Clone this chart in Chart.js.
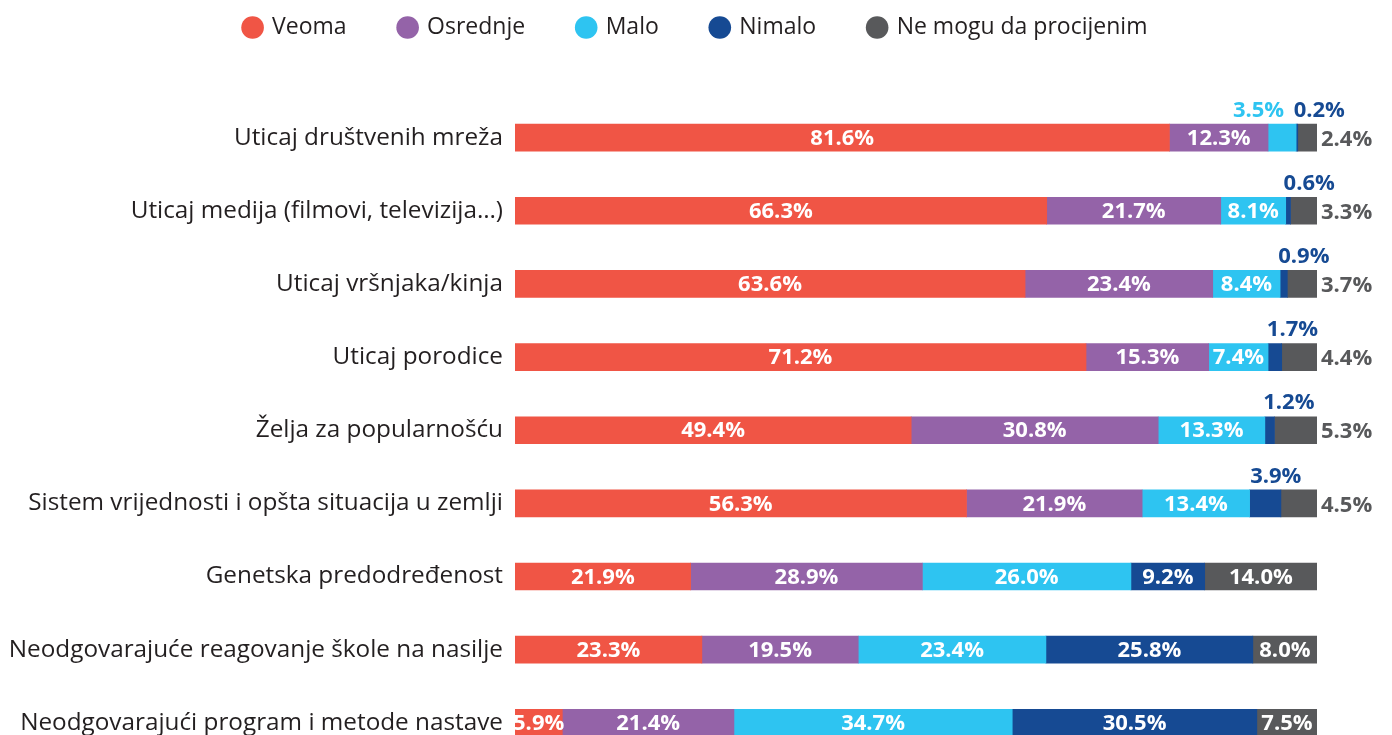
<!DOCTYPE html>
<html>
<head>
<meta charset="utf-8">
<script src="https://cdn.jsdelivr.net/npm/chart.js@4"></script>
<style>
    html, body { margin: 0; padding: 0; background: #fff; overflow: hidden; }
</style>
</head>
<body>
<canvas id="chart" width="1392" height="778"></canvas>
<script>
// Data
const categories = [
    "Uticaj društvenih mreža",
    "Uticaj medija (filmovi, televizija…)",
    "Uticaj vršnjaka/kinja",
    "Uticaj porodice",
    "Želja za popularnošću",
    "Sistem vrijednosti i opšta situacija u zemlji",
    "Genetska predodređenost",
    "Neodgovarajuće reagovanje škole na nasilje",
    "Neodgovarajući program i metode nastave"
];
const seriesNames = ["Veoma", "Osrednje", "Malo", "Nimalo", "Ne mogu da procijenim"];
const veoma    = [81.6, 66.3, 63.6, 71.2, 49.4, 56.3, 21.9, 23.3, 5.9];
const osrednje = [12.3, 21.7, 23.4, 15.3, 30.8, 21.9, 28.9, 19.5, 21.4];
const malo     = [3.5, 8.1, 8.4, 7.4, 13.3, 13.4, 26.0, 23.4, 34.7];
const nimalo   = [0.2, 0.6, 0.9, 1.7, 1.2, 3.9, 9.2, 25.8, 30.5];
const neMogu   = [2.4, 3.3, 3.7, 4.4, 5.3, 4.5, 14.0, 8.0, 7.5];

const colors = ["#f05545", "#9463a8", "#2ec4f1", "#164a93", "#58595b"];
const FONT = "'Open Sans', sans-serif";

// value labels: inside when the segment is wide enough, outside otherwise
const barLabels = {
    id: "barLabels",
    afterDatasetsDraw(chart) {
        const ctx = chart.ctx;
        ctx.save();
        ctx.font = `bold 22px ${FONT}`;
        ctx.textBaseline = "middle";
        chart.data.datasets.forEach((ds, i) => {
            const meta = chart.getDatasetMeta(i);
            meta.data.forEach((bar, j) => {
                const v = ds.data[j];
                const txt = v.toFixed(1) + "%";
                const w = bar.x - bar.base;
                if(v >= 5.5){
                    ctx.fillStyle = "#fff";
                    ctx.textAlign = "center";
                    ctx.fillText(txt, bar.base + w / 2, bar.y + 1);
                } else if(i === 4){
                    // gray: to the right of the bar
                    ctx.fillStyle = colors[i];
                    ctx.textAlign = "left";
                    ctx.fillText(txt, bar.x + 4, bar.y + 2);
                } else if(i === 3){
                    // dark blue: above, nudged right
                    ctx.fillStyle = colors[i];
                    ctx.textAlign = "center";
                    ctx.fillText(txt, bar.base + w / 2 + 23 - 0.4 * w, bar.y - 27);
                } else {
                    // cyan: above, left of the dark blue label
                    ctx.fillStyle = colors[i];
                    ctx.textAlign = "right";
                    ctx.fillText(txt, bar.x - 12, bar.y - 27);
                }
            });
        });
        ctx.restore();
    }
};

const values = [veoma, osrednje, malo, nimalo, neMogu];

// invisible axis that only reserves room
const spacer = (position, size) => ({
    type: "linear",
    position,
    axis: position === "top" ? "x" : "y",
    ticks: { display: false },
    grid: { display: false },
    border: { display: false },
    afterFit(scale){
        if(position === "top") scale.height = size;
        else scale.width = size;
    }
});

new Chart(document.getElementById("chart"), {
    type: "bar",
    data: {
        labels: categories,
        datasets: values.map((d, i) => ({
            label: seriesNames[i],
            data: d,
            xAxisID: "x",
            yAxisID: "y",
            backgroundColor: colors[i],
            borderWidth: 0,
            barThickness: 27
        }))
    },
    options: {
        indexAxis: "y",
        responsive: false,
        animation: false,
        layout: { padding: { top: -37, right: 0, bottom: 0, left: 0 } },
        plugins: {
            tooltip: { enabled: false },
            legend: {
                position: "top",
                labels: {
                    usePointStyle: true,
                    pointStyle: "circle",
                    boxWidth: 16,
                    boxHeight: 16,
                    padding: 53,
                    color: "#231f20",
                    font: { family: FONT, size: 23 }
                }
            }
        },
        scales: {
            x: {
                stacked: true,
                min: 0,
                max: 100,
                display: false
            },
            y: {
                type: "category",
                stacked: true,
                grid: { display: false },
                border: { display: false },
                ticks: {
                    padding: 4,
                    color: "#231f20",
                    font: { family: FONT, size: 24.3 }
                },
                afterFit(scale){ scale.width = 515; }
            },
            gapTop: spacer("top", 52),
            gapRight: spacer("right", 75)
        }
    },
    plugins: [barLabels]
});
</script>
</body>
</html>
